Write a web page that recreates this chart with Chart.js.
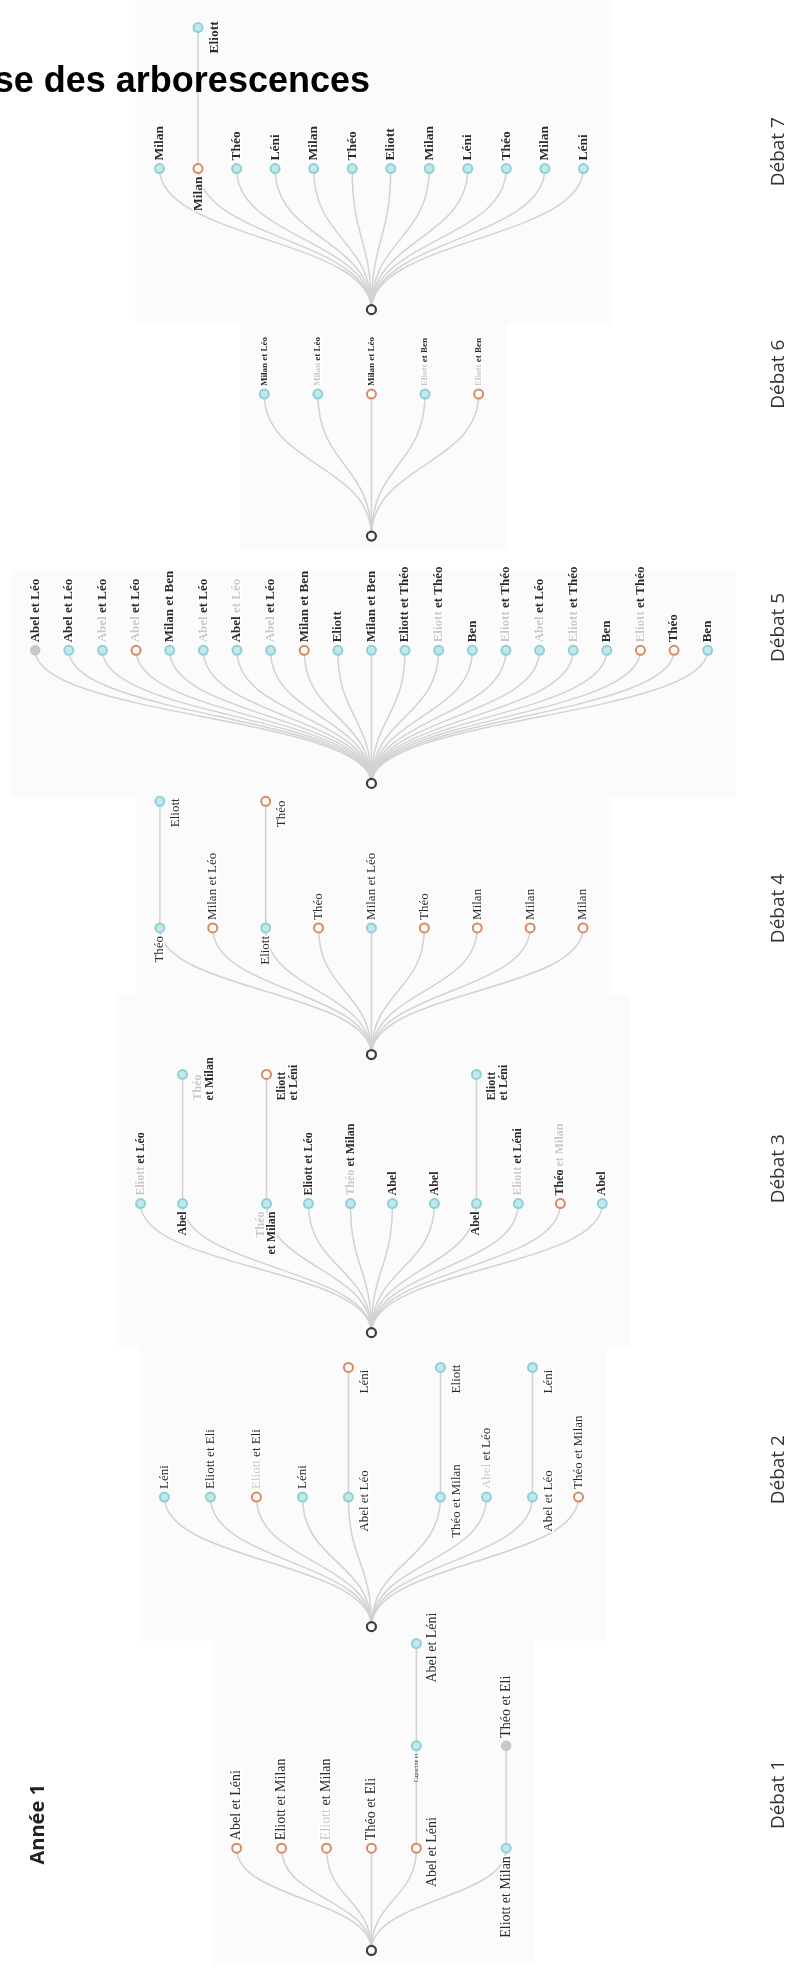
<!DOCTYPE html>
<html>
<head>
<meta charset="utf-8">
<script src="https://cdn.jsdelivr.net/npm/chart.js@4.4.1/dist/chart.umd.min.js"></script>
<style>
  html, body { margin: 0; padding: 0; background: #fff; }
  #wrap { width: 795px; height: 1977px; }
</style>
</head>
<body>
<div id="wrap"><canvas id="trees" width="795" height="1977"></canvas></div>
<script>
// ---------- data : one reply tree per debate ----------
// status : 'ok' teal, 'ko' orange, 'nd' grey
// ~text~ is written faded, '\n' splits a label on two lines, null = empty slot
// replies : [parent node index, label, status] (indexes go on after the first row)
var debates = ['Débat 1', 'Débat 2', 'Débat 3', 'Débat 4', 'Débat 5', 'Débat 6', 'Débat 7'];

var d1Names = ['Abel et Léni', 'Eliott et Milan', '~Eliott~ et Milan', 'Théo et Eli', 'Abel et Léni', null, 'Eliott et Milan'];
var d1Status = ['ko', 'ko', 'ko', 'ko', 'ko', null, 'ok'];
var d1Replies = [[4, 'Capucine et', 'ok'], [7, 'Abel et Léni', 'ok'], [6, 'Théo et Eli', 'nd']];

var d2Names = ['Léni', 'Eliott et Eli', '~Eliott~ et Eli', 'Léni', 'Abel et Léo', null, 'Théo et Milan', '~Abel~ et Léo', 'Abel et Léo', 'Théo et Milan'];
var d2Status = ['ok', 'ok', 'ko', 'ok', 'ok', null, 'ok', 'ok', 'ok', 'ko'];
var d2Replies = [[4, 'Léni', 'ko'], [6, 'Eliott', 'ok'], [8, 'Léni', 'ok']];

var d3Names = ['~Eliott~ et Léo', 'Abel', null, '~Théo~\net Milan', 'Eliott et Léo', '~Théo~ et Milan', 'Abel', 'Abel', 'Abel', '~Eliott~ et Léni', 'Théo ~et Milan~', 'Abel'];
var d3Status = ['ok', 'ok', null, 'ok', 'ok', 'ok', 'ok', 'ok', 'ok', 'ok', 'ko', 'ok'];
var d3Replies = [[1, '~Théo~\net Milan', 'ok'], [3, 'Eliott\net Léni', 'ko'], [8, 'Eliott\net Léni', 'ok']];

var d4Names = ['Théo', 'Milan et Léo', 'Eliott', 'Théo', 'Milan et Léo', 'Théo', 'Milan', 'Milan', 'Milan'];
var d4Status = ['ok', 'ko', 'ok', 'ko', 'ok', 'ko', 'ko', 'ko', 'ko'];
var d4Replies = [[0, 'Eliott', 'ok'], [2, 'Théo', 'ko']];

var d5Names = ['Abel et Léo', 'Abel et Léo', '~Abel~ et Léo', '~Abel~ et Léo', 'Milan et Ben', '~Abel~ et Léo', 'Abel ~et Léo~',
  '~Abel~ et Léo', 'Milan et Ben', 'Eliott', 'Milan et Ben', 'Eliott et Théo', '~Eliott~ et Théo', 'Ben', '~Eliott~ et Théo',
  '~Abel~ et Léo', '~Eliott~ et Théo', 'Ben', '~Eliott~ et Théo', 'Théo', 'Ben'];
var d5Status = ['nd', 'ok', 'ok', 'ko', 'ok', 'ok', 'ok', 'ok', 'ko', 'ok', 'ok', 'ok', 'ok', 'ok', 'ok', 'ok', 'ok', 'ok', 'ko', 'ko', 'ok'];
var d5Replies = [];

var d6Names = ['Milan et Léo', '~Milan~ et Léo', 'Milan et Léo', '~Eliott~ et Ben', '~Eliott~ et Ben'];
var d6Status = ['ok', 'ok', 'ko', 'ok', 'ko'];
var d6Replies = [];

var d7Names = ['Milan', 'Milan', 'Théo', 'Léni', 'Milan', 'Théo', 'Eliott', 'Milan', 'Léni', 'Théo', 'Milan', 'Léni'];
var d7Status = ['ok', 'ko', 'ok', 'ok', 'ok', 'ok', 'ok', 'ok', 'ok', 'ok', 'ok', 'ok'];
var d7Replies = [[1, 'Eliott', 'ok']];

// ---------- layout / style ----------
var ROOT_X = 371;
var panels = {
  'Débat 1': { rootY: 1957, level: 103, step: 45.7, size: 14, weight: '', tagY: 1800 },
  'Débat 2': { rootY: 1631, level: 130.5, step: 46.8, size: 13, weight: '', tagY: 1473 },
  'Débat 3': { rootY: 1335, level: 130, step: 42.7, size: 12, weight: 'bold ', tagY: 1170 },
  'Débat 4': { rootY: 1055, level: 127.5, step: 53.8, size: 13, weight: '', tagY: 908 },
  'Débat 5': { rootY: 782, level: 134, step: 34.2, size: 13, weight: 'bold ', tagY: 625 },
  'Débat 6': { rootY: 533, level: 143, step: 54.5, size: 9, weight: 'bold ', tagY: 370 },
  'Débat 7': { rootY: 305, level: 142, step: 39.2, size: 13.5, weight: 'bold ', tagY: 146 }
};
// label side : a above, b below, c right and centred, r right of a reply
var sideOverrides = { 'Débat 2': { 4: 'c', 6: 'c', 8: 'c' }, 'Débat 1': { 4: 'c', 8: 'c', 9: 'a' } };
var sizeOverrides = { 'Débat 1': { 7: 6 } };

var INK = '#2b2b2b', FADED = '#c9c9c9', LINK = '#d2d2d2';
var SERIF = '"Liberation Serif", "Times New Roman", serif';
var SANS = '"Open Sans", "Liberation Sans", sans-serif';
var nodeStyles = {
  root: { bg: '#ffffff', border: '#3d3d3d', r: 4.5, w: 2.2 },
  ok: { bg: '#c3e8ea', border: '#8dd0d5', r: 4.5, w: 2 },
  ko: { bg: '#ffffff', border: '#dd8662', r: 4.5, w: 2 },
  nd: { bg: '#c8c8c8', border: '#c4c4c4', r: 4.5, w: 1.5 }
};

var treeData = {
  'Débat 1': [d1Names, d1Status, d1Replies], 'Débat 2': [d2Names, d2Status, d2Replies],
  'Débat 3': [d3Names, d3Status, d3Replies], 'Débat 4': [d4Names, d4Status, d4Replies],
  'Débat 5': [d5Names, d5Status, d5Replies], 'Débat 6': [d6Names, d6Status, d6Replies],
  'Débat 7': [d7Names, d7Status, d7Replies]
};

function buildTree(name) {
  var g = panels[name], src = treeData[name];
  var names = src[0], status = src[1], replies = src[2];
  var n = names.length;
  var root = { x: ROOT_X, y: g.rootY, status: 'root', depth: 0 };
  var nodes = [];
  names.forEach(function (label, i) {
    if (label === null) { nodes.push(null); return; }
    nodes.push({ x: ROOT_X + (i - (n - 1) / 2) * g.step, y: g.rootY - g.level, label: label,
      status: status[i], parent: root, depth: 1, kids: 0 });
  });
  replies.forEach(function (r) {
    var par = nodes[r[0]];
    par.kids++;
    nodes.push({ x: par.x, y: par.y - g.level, label: r[1], status: r[2], parent: par, depth: par.depth + 1, kids: 0 });
  });
  var ov = sideOverrides[name] || {}, so = sizeOverrides[name] || {};
  nodes.forEach(function (nd, i) {
    if (!nd) return;
    nd.side = ov[i] || (nd.kids ? 'b' : (nd.depth === 1 ? 'a' : 'r'));
    nd.size = so[i] || g.size;
    nd.weight = g.weight;
  });
  return { name: name, root: root, nodes: nodes.filter(Boolean) };
}

var trees = debates.map(buildTree);

var datasets = ['root', 'ok', 'ko', 'nd'].map(function (st) {
  var s = nodeStyles[st];
  var pts = [];
  trees.forEach(function (t) {
    if (st === 'root') pts.push({ x: t.root.x, y: t.root.y });
    t.nodes.forEach(function (nd) { if (nd.status === st) pts.push({ x: nd.x, y: nd.y }); });
  });
  return { label: st, data: pts, pointRadius: s.r, pointHoverRadius: s.r, pointBackgroundColor: s.bg,
    pointBorderColor: s.border, pointBorderWidth: s.w, showLine: false, clip: false };
});

function drawRich(ctx, text, align) {
  var parts = text.split('~').map(function (t, k) { return { t: t, faded: k % 2 === 1 }; })
    .filter(function (p) { return p.t.length; });
  var w = 0;
  parts.forEach(function (p) { p.w = ctx.measureText(p.t).width; w += p.w; });
  var x0 = align === 'right' ? -w : (align === 'center' ? -w / 2 : 0);
  ctx.textAlign = 'left';
  var x = x0;
  parts.forEach(function (p) { ctx.strokeText(p.t, x, 0); x += p.w; });
  x = x0;
  parts.forEach(function (p) { ctx.fillStyle = p.faded ? FADED : INK; ctx.fillText(p.t, x, 0); x += p.w; });
}

var treePlugin = {
  id: 'treePlugin',
  beforeDatasetsDraw: function (chart) {
    var ctx = chart.ctx, xs = chart.scales.x, ys = chart.scales.y;
    ctx.save();
    // faint panels behind each tree
    trees.forEach(function (t) {
      var minX = Math.min.apply(null, t.nodes.map(function (n) { return n.x; }));
      var maxX = Math.max.apply(null, t.nodes.map(function (n) { return n.x; }));
      var topY = Math.min.apply(null, t.nodes.map(function (n) { return n.y; }));
      var l = xs.getPixelForValue(minX) - 24, r = xs.getPixelForValue(maxX) + 28;
      var top = ys.getPixelForValue(topY) - 80, bot = ys.getPixelForValue(t.root.y) + 14;
      ctx.fillStyle = '#fbfbfb';
      ctx.fillRect(l, Math.max(top, 0), r - l, bot - Math.max(top, 0));
    });
    // links
    ctx.strokeStyle = LINK;
    ctx.lineWidth = 1.5;
    trees.forEach(function (t) {
      t.nodes.forEach(function (nd) {
        var x0 = xs.getPixelForValue(nd.parent.x), y0 = ys.getPixelForValue(nd.parent.y);
        var x1 = xs.getPixelForValue(nd.x), y1 = ys.getPixelForValue(nd.y);
        var ym = (y0 + y1) / 2;
        ctx.beginPath();
        ctx.moveTo(x0, y0);
        ctx.bezierCurveTo(x0, ym, x1, ym, x1, y1);
        ctx.stroke();
      });
    });
    ctx.restore();
  },
  afterDatasetsDraw: function (chart) {
    var ctx = chart.ctx, xs = chart.scales.x, ys = chart.scales.y;
    ctx.save();
    ctx.textBaseline = 'middle';
    ctx.strokeStyle = '#ffffff';
    ctx.lineJoin = 'round';
    trees.forEach(function (t) {
      t.nodes.forEach(function (nd) {
        var px = xs.getPixelForValue(nd.x), py = ys.getPixelForValue(nd.y);
        var lines = nd.label.split('\n');
        var lh = nd.size * 0.95;
        var ax, ay, align;
        if (nd.side === 'a') { ax = px; ay = py - 8; align = 'left'; }
        else if (nd.side === 'b') { ax = px; ay = py + 8; align = 'right'; }
        else if (nd.side === 'c') { ax = px + 16; ay = py + 4; align = 'center'; }
        else { ax = px + 10 + lh * lines.length / 2; ay = py + 26; align = 'left'; }
        ctx.font = nd.weight + nd.size + 'px ' + SERIF;
        ctx.lineWidth = nd.size > 8 ? 3 : 1.5;
        ctx.save();
        ctx.translate(ax, ay);
        ctx.rotate(-Math.PI / 2);
        lines.forEach(function (ln, j) {
          ctx.save();
          ctx.translate(0, (j - (lines.length - 1) / 2) * lh);
          drawRich(ctx, ln, align);
          ctx.restore();
        });
        ctx.restore();
      });
      // debate tag on the right
      ctx.save();
      ctx.translate(779, ys.getPixelForValue(panels[t.name].tagY));
      ctx.rotate(-Math.PI / 2);
      ctx.font = '19px ' + SANS;
      ctx.fillStyle = '#333333';
      ctx.textAlign = 'center';
      ctx.fillText(t.name, 0, 0);
      ctx.restore();
    });
    // year tag
    ctx.save();
    ctx.translate(38, ys.getPixelForValue(1830));
    ctx.rotate(-Math.PI / 2);
    ctx.font = 'bold 20px ' + SANS;
    ctx.fillStyle = '#222';
    ctx.textAlign = 'center';
    ctx.fillText('Année 1', 0, 0);
    ctx.restore();
    // page title, cut by the left edge
    ctx.font = 'bold 36px "Liberation Sans", Arial, sans-serif';
    ctx.fillStyle = '#000';
    ctx.textAlign = 'right';
    ctx.textBaseline = 'alphabetic';
    ctx.fillText('Analyse des arborescences', 370, 92);
    ctx.restore();
  }
};

new Chart(document.getElementById('trees'), {
  type: 'scatter',
  data: { datasets: datasets },
  options: {
    responsive: false,
    animation: false,
    devicePixelRatio: 1,
    layout: { padding: 0 },
    plugins: { legend: { display: false }, tooltip: { enabled: false } },
    scales: {
      x: { type: 'linear', min: 0, max: 795, display: false },
      y: { type: 'linear', min: 0, max: 1977, reverse: true, display: false }
    }
  },
  plugins: [treePlugin]
});
</script>
</body>
</html>
